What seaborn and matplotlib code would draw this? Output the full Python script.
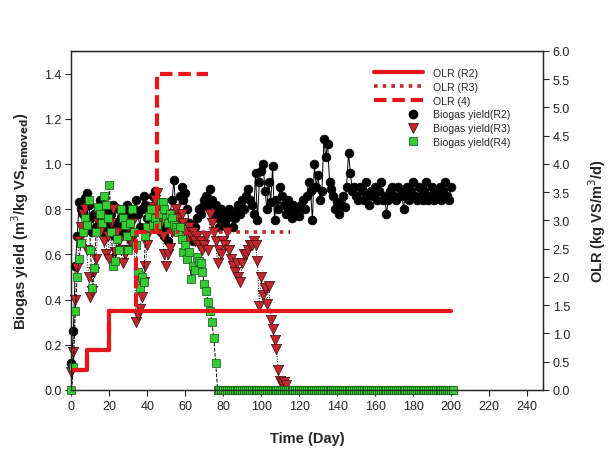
import numpy as np
import pandas as pd
import matplotlib
matplotlib.use("Agg")
import matplotlib.pyplot as plt
import seaborn as sns
from matplotlib.lines import Line2D
from matplotlib.legend_handler import HandlerLine2D

# ---------------- data ----------------
r2_yield = [0.12, 0.26, 0.55, 0.68, 0.83, 0.80, 0.78, 0.85, 0.87, 0.82,
            0.76, 0.70, 0.78, 0.72, 0.80, 0.84, 0.76, 0.70, 0.74, 0.80,
            0.72, 0.78, 0.82, 0.68, 0.74, 0.80, 0.76, 0.70, 0.78, 0.82,
            0.74, 0.70, 0.76, 0.80, 0.84, 0.78, 0.72, 0.80, 0.86, 0.82,
            0.76, 0.72, 0.80, 0.86, 0.88, 0.82, 0.76, 0.70, 0.74, 0.68,
            0.72, 0.66, 0.78, 0.84, 0.93, 0.78, 0.72, 0.86, 0.90, 0.84,
            0.87, 0.80, 0.74, 0.70, 0.66, 0.72, 0.76, 0.80, 0.78, 0.81,
            0.84, 0.86, 0.82, 0.89, 0.84, 0.78, 0.82, 0.76, 0.72, 0.80,
            0.78, 0.74, 0.76, 0.80, 0.78, 0.72, 0.76, 0.79, 0.82, 0.78,
            0.84, 0.80, 0.86, 0.89, 0.84, 0.82, 0.78, 0.96, 0.75, 0.92,
            0.97, 1.00, 0.88, 0.80, 0.92, 0.83, 0.99, 0.75, 0.84, 0.80,
            0.90, 0.86, 0.82, 0.78, 0.84, 0.80, 0.76, 0.82, 0.78, 0.80,
            0.77, 0.82, 0.84, 0.80, 0.86, 0.92, 0.88, 0.75, 1.00, 0.90,
            0.95, 0.84, 0.88, 1.11, 1.03, 1.09, 0.92, 0.89, 0.86, 0.80,
            0.83, 0.78, 0.82, 0.86, 0.81, 0.90, 1.05, 0.96, 0.88, 0.90,
            0.86, 0.84, 0.90, 0.88, 0.84, 0.92, 0.86, 0.82, 0.88, 0.86,
            0.90, 0.84, 0.88, 0.92, 0.84, 0.86, 0.78, 0.84, 0.88, 0.90,
            0.86, 0.84, 0.90, 0.86, 0.88, 0.80, 0.86, 0.90, 0.84, 0.88,
            0.92, 0.86, 0.84, 0.90, 0.86, 0.84, 0.88, 0.92, 0.84, 0.86,
            0.90, 0.84, 0.88, 0.86, 0.90, 0.84, 0.88, 0.92, 0.86, 0.84,
            0.90]
r2_days = list(range(len(r2_yield)))

r3_yield = [0.08, 0.17, 0.40, 0.54, 0.66, 0.72, 0.78, 0.80, 0.62, 0.50,
            0.41, 0.44, 0.52, 0.58, 0.74, 0.70, 0.76, 0.66, 0.60, 0.68,
            0.58, 0.74, 0.80, 0.61, 0.70, 0.66, 0.62, 0.56, 0.60, 0.62,
            0.72, 0.66, 0.74, 0.68, 0.30, 0.33, 0.36, 0.41, 0.48, 0.55,
            0.64, 0.70, 0.76, 0.81, 0.84, 0.87, 0.79, 0.74, 0.68, 0.60,
            0.55, 0.60, 0.63, 0.70, 0.78, 0.80, 0.76, 0.72, 0.78, 0.74,
            0.70, 0.66, 0.72, 0.68, 0.70, 0.66, 0.68, 0.64, 0.66, 0.62,
            0.64, 0.68, 0.62, 0.78, 0.74, 0.70, 0.66, 0.56, 0.62, 0.60,
            0.66, 0.64, 0.70, 0.62, 0.58, 0.55, 0.52, 0.56, 0.50, 0.48,
            0.56, 0.60, 0.60, 0.62, 0.64, 0.64, 0.66, 0.64, 0.57, 0.37,
            0.50, 0.42, 0.45, 0.38, 0.46, 0.31, 0.27, 0.22, 0.18, 0.09,
            0.04, 0.03, 0.035, 0.02]
r3_days = list(range(len(r3_yield)))

r4_yield = [0.00, 0.10, 0.35, 0.50, 0.58, 0.65, 0.70, 0.76, 0.73, 0.84,
            0.62, 0.45, 0.54, 0.70, 0.81, 0.78, 0.74, 0.86, 0.82, 0.76,
            0.905, 0.70, 0.55, 0.57, 0.67, 0.62, 0.80, 0.76, 0.73, 0.68,
            0.62, 0.74, 0.80, 0.70, 0.64, 0.52, 0.45, 0.50, 0.48, 0.68,
            0.72, 0.77, 0.80, 0.73, 0.76, 0.73, 0.78, 0.83, 0.83, 0.80,
            0.76, 0.74, 0.78, 0.76, 0.73, 0.72, 0.70, 0.72, 0.67, 0.61,
            0.64, 0.58, 0.61, 0.49, 0.55, 0.53, 0.59, 0.57, 0.56, 0.52,
            0.47, 0.44, 0.39, 0.35, 0.30, 0.23, 0.12] + [0.0] * 125
r4_days = list(range(len(r4_yield)))

olr_r2_days = [0, 8, 20, 200]
olr_r2 = [0.35, 0.7, 1.4, 1.4]
olr_r3_days = [0, 8, 20, 34, 115]
olr_r3 = [0.35, 0.7, 1.4, 2.8, 2.8]
olr_r4_days = [0, 8, 20, 34, 45, 72]
olr_r4 = [0.35, 0.7, 1.4, 2.8, 5.6, 5.6]

x_ticks = list(range(0, 241, 20))
y_ticks = [0.0, 0.2, 0.4, 0.6, 0.8, 1.0, 1.2, 1.4]
y2_ticks = [0.0, 0.5, 1.0, 1.5, 2.0, 2.5, 3.0, 3.5, 4.0, 4.5, 5.0, 5.5, 6.0]

legend_labels = ["OLR (R2)", "OLR (R3)", "OLR (4)",
                 "Biogas yield(R2)", "Biogas yield(R3)", "Biogas yield(R4)"]

# ---------------- style ----------------
sns.set_style("ticks")
plt.rcParams['font.family'] = ['Liberation Sans', 'DejaVu Sans']
plt.rcParams['axes.linewidth'] = 0.9

RED = '#e8161b'
RED_DOT = '#c0272d'
TRI = '#c1272d'
GREEN = '#33cc33'

fig = plt.figure(figsize=(6.09, 4.52), dpi=100)
ax = fig.add_axes([0.1174, 0.135, 0.7742, 0.75])

d2 = pd.DataFrame({'day': r2_days, 'y': r2_yield})
d3 = pd.DataFrame({'day': r3_days, 'y': r3_yield})
d4 = pd.DataFrame({'day': r4_days, 'y': r4_yield})

# R2
sns.lineplot(data=d2, x='day', y='y', ax=ax, color='black', linewidth=0.7,
             estimator=None, sort=False, zorder=2)
sns.scatterplot(data=d2, x='day', y='y', ax=ax, marker='o', s=40, color='black',
                edgecolor='black', linewidth=0.5, zorder=3, clip_on=False)
# R3
sns.lineplot(data=d3, x='day', y='y', ax=ax, color='black', linewidth=0.7,
             linestyle=':', estimator=None, sort=False, zorder=4)
sns.scatterplot(data=d3, x='day', y='y', ax=ax, marker='v', s=55, color=TRI,
                edgecolor='#3a0a0a', linewidth=0.5, zorder=5, clip_on=False)
# R4
sns.lineplot(data=d4, x='day', y='y', ax=ax, color='black', linewidth=0.7,
             linestyle='--', estimator=None, sort=False, zorder=6)
sns.scatterplot(data=d4, x='day', y='y', ax=ax, marker='s', s=38, color=GREEN,
                edgecolor='#1a4a1a', linewidth=0.5, zorder=7, clip_on=False)

ax.set_xlim(0, 248.5)
ax.set_ylim(0, 1.5)
ax.set_xticks(x_ticks)
ax.set_yticks(y_ticks)
ax.set_yticklabels([f"{v:.1f}" for v in y_ticks])
ax.tick_params(axis='both', direction='out', length=4, width=0.8,
               labelsize=9, labelcolor='#222222', pad=3)
ax.set_xlabel("Time (Day)", fontsize=10.5, fontweight='bold', labelpad=14)
ax.set_ylabel(r"Biogas yield (m$^3$/kg VS$_{\mathbf{removed}}$)", fontsize=10.5,
              fontweight='bold', labelpad=10)
for sp in ax.spines.values():
    sp.set_visible(True)
    sp.set_color('black')

# OLR on twin axis
ax2 = ax.twinx()
sns.lineplot(x=olr_r2_days, y=olr_r2, ax=ax2, color=RED, linewidth=3,
             drawstyle='steps-post', estimator=None)
sns.lineplot(x=olr_r3_days, y=olr_r3, ax=ax2, color=RED_DOT, linewidth=2.6,
             linestyle=(0, (1, 1.4)), drawstyle='steps-post', estimator=None)
sns.lineplot(x=olr_r4_days, y=olr_r4, ax=ax2, color=RED, linewidth=3,
             linestyle=(0, (3, 1.4)), drawstyle='steps-post', estimator=None)
ax2.set_ylim(0, 6)
ax2.set_yticks(y2_ticks)
ax2.set_yticklabels([f"{v:.1f}" for v in y2_ticks])
ax2.tick_params(axis='y', direction='out', length=4, width=0.8,
                labelsize=9, labelcolor='#222222', pad=3)
ax2.set_ylabel(r"OLR (kg VS/m$^3$/d)", fontsize=10.5, fontweight='bold',
               labelpad=12)
ax2.set_xlim(0, 248.5)


class RightMarkerHandler(HandlerLine2D):
    def get_xdata(self, legend, xdescent, ydescent, width, height, fontsize):
        x = -xdescent + width * 0.8
        return np.array([x]), np.array([x])


h_olr2 = Line2D([], [], color=RED, linewidth=3)
h_olr3 = Line2D([], [], color=RED_DOT, linewidth=2.6, linestyle=(0, (1, 1.4)))
h_olr4 = Line2D([], [], color=RED, linewidth=3, linestyle=(0, (3, 1.4)))
h_r2 = Line2D([], [], marker='o', linestyle='none', color='black', markersize=6)
h_r3 = Line2D([], [], marker='v', linestyle='none', color=TRI,
              markeredgecolor='#3a0a0a', markeredgewidth=0.5, markersize=7)
h_r4 = Line2D([], [], marker='s', linestyle='none', color=GREEN,
              markeredgecolor='#1a4a1a', markeredgewidth=0.5, markersize=6)
hm = {h: RightMarkerHandler(numpoints=1) for h in (h_r2, h_r3, h_r4)}
leg = ax2.legend([h_olr2, h_olr3, h_olr4, h_r2, h_r3, h_r4], legend_labels,
                 handler_map=hm, loc='upper left',
                 bbox_to_anchor=(374 / 609, 1 - 69 / 452),
                 bbox_transform=fig.transFigure, frameon=False,
                 fontsize=7.6, handlelength=4.6, handletextpad=1.0,
                 labelspacing=0.36, borderpad=0, borderaxespad=0)

fig.savefig("out.png", dpi=100)
